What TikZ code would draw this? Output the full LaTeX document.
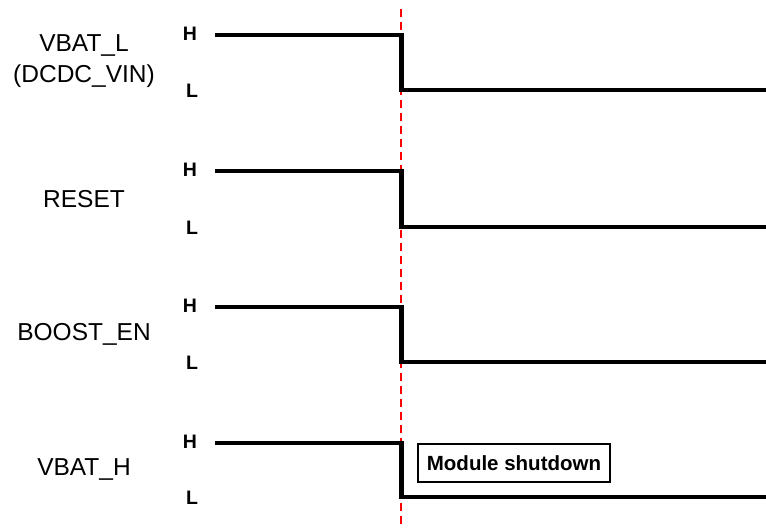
\documentclass[tikz,border=0pt]{standalone}
\usepackage{fontspec}
\setmainfont{Liberation Sans}
\begin{document}
\begin{tikzpicture}[x=1pt,y=-1pt,
  sig/.style={line width=4.4pt,line join=miter},
  lvl/.style={font=\fontsize{19.5}{20}\selectfont\bfseries,inner sep=0pt},
  signame/.style={font=\fontsize{24.5}{31}\selectfont,inner sep=0pt,align=center},
  marker/.style={red,line width=1.6pt,dash pattern=on 8pt off 5pt}]
\useasboundingbox (0,0) rectangle (766,529);
% red dashed marker line
\coordinate (mtop) at (401,9);
\coordinate (mbot) at (401,529);
\draw[marker] (mtop) -- (mbot);
% signal names
\node[signame] (n1) at (84,61) {VBAT\_L\\(DCDC\_VIN)};
\node[signame] (n2) at (84,199) {RESET};
\node[signame] (n3) at (84,334) {BOOST\_EN};
\node[signame] (n4) at (84,470) {VBAT\_H};
% waveforms
\foreach \i/\h/\l in {1/35/90, 2/171/227, 3/307/362, 4/443/497}{
  \node[lvl] (H\i) at (190,\h-1) {H};
  \node[lvl] (L\i) at (192,\l+1) {L};
  \coordinate (s\i) at (215,\h);
  \coordinate (a\i) at (401.5,\h);
  \coordinate (b\i) at (401.5,\l);
  \coordinate (e\i) at (766,\l);
  \draw[sig] (s\i) -- (a\i) -- (b\i) -- (e\i);
}
\node[draw,line width=1.2pt,inner xsep=4pt,minimum height=38pt,minimum width=192pt,
  font=\fontsize{20.5}{22}\selectfont\bfseries] (box) at (514,463) {Module shutdown};
\end{tikzpicture}
\end{document}
